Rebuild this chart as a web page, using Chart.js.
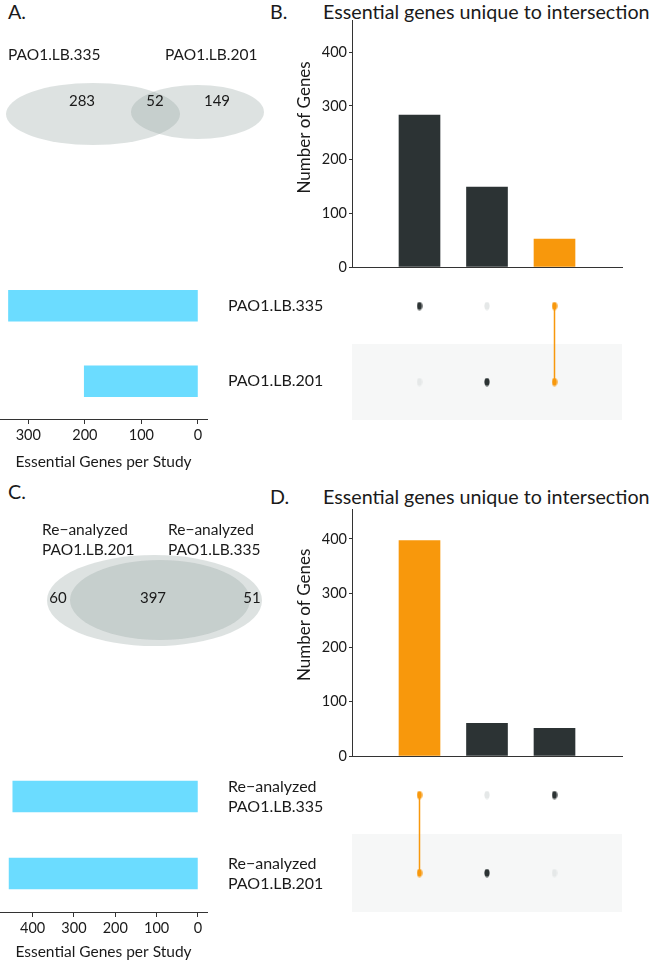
<!DOCTYPE html>
<html>
<head>
<meta charset="utf-8">
<script src="https://cdn.jsdelivr.net/npm/chart.js@4.4.0/dist/chart.umd.min.js"></script>
<style>
  body { margin: 0; background: #fff; }
  #page { position: relative; width: 652px; height: 963px; overflow: hidden; font-family: Lato, sans-serif; color: #1a1a1a; }
  #page canvas { position: absolute; }
  .lbl { position: absolute; white-space: nowrap; font-size: 19.7px; line-height: 22px; }
</style>
</head>
<body>
<div id="page">
  <div class="lbl" style="left:8px;top:1px">A.</div>
  <div class="lbl" style="left:270px;top:1px">B.</div>
  <div class="lbl" style="left:323px;top:1px">Essential genes unique to intersection</div>
  <div class="lbl" style="left:8px;top:481px">C.</div>
  <div class="lbl" style="left:270px;top:486px">D.</div>
  <div class="lbl" style="left:323px;top:486px">Essential genes unique to intersection</div>

  <canvas id="vennA" width="275" height="120" style="left:0;top:40px"></canvas>
  <canvas id="barB" width="372" height="285" style="left:280px;top:0"></canvas>
  <canvas id="matB" width="372" height="170" style="left:280px;top:260px"></canvas>
  <canvas id="setsA" width="340" height="220" style="left:0;top:260px"></canvas>

  <canvas id="vennC" width="275" height="140" style="left:0;top:520px"></canvas>
  <canvas id="barD" width="372" height="280" style="left:280px;top:490px"></canvas>
  <canvas id="matD" width="372" height="175" style="left:280px;top:748px"></canvas>
  <canvas id="setsC" width="340" height="213" style="left:0;top:750px"></canvas>
</div>
<script>
// ---- data (top half: original studies) ----
const setNamesA = ['PAO1.LB.335', 'PAO1.LB.201'];
const setSizesA = [335, 201];
const vennCountsA = [283, 52, 149];          // only 335, both, only 201
const upsetCountsB = [283, 149, 52];
const upsetMembersB = [[1, 0], [0, 1], [1, 1]]; // per column: [row1, row2]

// ---- data (bottom half: re-analyzed) ----
const vennLabelsC = [['Re\u2212analyzed', 'PAO1.LB.201'], ['Re\u2212analyzed', 'PAO1.LB.335']];
const setNamesC = [['Re\u2212analyzed', 'PAO1.LB.335'], ['Re\u2212analyzed', 'PAO1.LB.201']];
const setSizesC = [448, 457];
const vennCountsC = [60, 397, 51];
const upsetCountsD = [397, 60, 51];
const upsetMembersD = [[1, 1], [0, 1], [1, 0]];

// ---- tick labels ----
const countTicks = [0, 100, 200, 300, 400];
const setTicksA = [0, 100, 200, 300];
const setTicksC = [0, 100, 200, 300, 400];

const DARK = '#2c3334';
const ORANGE = '#f8980c';
const BLUE = '#6bdcff';
const LIGHT = '#e5e8e8';
const AXIS = '#333';

Chart.defaults.font.family = 'Lato, sans-serif';
Chart.defaults.color = '#1a1a1a';
Chart.defaults.animation = false;

function makeDot(color) {
  const c = document.createElement('canvas');
  c.width = 6; c.height = 9;
  const g = c.getContext('2d');
  g.fillStyle = color;
  g.beginPath();
  g.ellipse(3, 4.5, 2.6, 4, 0, 0, Math.PI * 2);
  g.fill();
  return c;
}
const dots = { dark: makeDot(DARK), light: makeDot(LIGHT), hi: makeDot(ORANGE) };

// venn: ellipses and numbers placed in the chart's own x/y units
const vennPlugin = {
  id: 'venn',
  afterDraw(chart, args, opts) {
    const { ctx, scales: { x, y } } = chart;
    ctx.save();
    opts.shapes.forEach(s => {
      const cx = x.getPixelForValue(s.cx), cy = y.getPixelForValue(s.cy);
      const rx = Math.abs(x.getPixelForValue(s.cx + s.rx) - cx);
      const ry = Math.abs(y.getPixelForValue(s.cy + s.ry) - cy);
      ctx.fillStyle = 'rgba(150,166,162,0.32)';
      ctx.beginPath();
      ctx.ellipse(cx, cy, rx, ry, 0, 0, Math.PI * 2);
      ctx.fill();
    });
    ctx.fillStyle = '#1a1a1a';
    ctx.textAlign = 'center';
    ctx.textBaseline = 'middle';
    ctx.font = '15px Lato, sans-serif';
    opts.counts.forEach((v, i) => {
      const p = opts.countPos[i];
      ctx.fillText(String(v), x.getPixelForValue(p[0]), y.getPixelForValue(p[1]));
    });
    ctx.textAlign = 'left';
    ctx.font = '15.5px Lato, sans-serif';
    opts.labels.forEach((lab, i) => {
      const p = opts.labelPos[i];
      const lines = Array.isArray(lab) ? lab : [lab];
      lines.forEach((t, k) => ctx.fillText(t, x.getPixelForValue(p[0]), y.getPixelForValue(p[1]) + k * 20));
    });
    ctx.restore();
  }
};

function vennChart(id, w, h, vopts) {
  return new Chart(document.getElementById(id), {
    type: 'scatter',
    data: { datasets: [] },
    options: {
      responsive: false,
      layout: { padding: 0 },
      plugins: { legend: { display: false }, tooltip: { enabled: false }, venn: vopts },
      scales: {
        x: { type: 'linear', display: false, min: 0, max: w },
        y: { type: 'linear', display: false, min: 0, max: h, reverse: true }
      }
    },
    plugins: [vennPlugin]
  });
}

vennChart('vennA', 275, 120, {
  shapes: [{ cx: 93, cy: 74, rx: 87, ry: 31 }, { cx: 197.5, cy: 72, rx: 66.5, ry: 27 }],
  counts: vennCountsA,
  countPos: [[82, 61], [155, 61], [217, 61]],
  labels: setNamesA,
  labelPos: [[8, 15], [165, 15]]
});

vennChart('vennC', 275, 140, {
  shapes: [{ cx: 154.5, cy: 80.5, rx: 107.5, ry: 45.5 }, { cx: 160, cy: 80, rx: 90, ry: 40 }],
  counts: vennCountsC,
  countPos: [[58, 78], [153, 78], [252, 78]],
  labels: vennLabelsC,
  labelPos: [[42, 10], [168, 10]]
});

function intersectionColors(members) {
  return members.map(col => col.every(m => m) ? ORANGE : DARK);
}

// y axis title, centred on a value of the count axis like the original
const yTitlePlugin = {
  id: 'yTitle',
  afterDraw(chart, args, opts) {
    const { ctx, scales: { y } } = chart;
    ctx.save();
    ctx.translate(y.left + opts.offset, y.getPixelForValue(opts.at));
    ctx.rotate(-Math.PI / 2);
    ctx.font = '17px Lato, sans-serif';
    ctx.fillStyle = '#1a1a1a';
    ctx.textAlign = 'center';
    ctx.textBaseline = 'middle';
    ctx.fillText(opts.text, 0, 0);
    ctx.restore();
  }
};

function countChart(id, counts, members, yMax, pad) {
  return new Chart(document.getElementById(id), {
    type: 'bar',
    data: {
      datasets: [{
        data: counts.map((v, i) => ({ x: i + 1, y: v })),
        backgroundColor: intersectionColors(members),
        barThickness: 41
      }]
    },
    options: {
      responsive: false,
      layout: { padding: pad },
      plugins: {
        legend: { display: false }, tooltip: { enabled: false },
        yTitle: { text: 'Number of Genes', at: 260, offset: 25 }
      },
      scales: {
        x: {
          type: 'linear', min: 0, max: counts.length + 1, offset: false,
          ticks: { display: false },
          grid: { display: false },
          border: { display: true, color: AXIS, width: 1 },
          afterFit: s => { s.height = 0; }
        },
        y: {
          min: 0, max: yMax,
          afterBuildTicks: s => { s.ticks = countTicks.map(v => ({ value: v })); },
          ticks: { font: { size: 14.5 }, padding: 2, color: '#1a1a1a' },
          grid: { drawOnChartArea: false, tickLength: 3, color: AXIS },
          border: { display: true, color: AXIS, width: 1 },
          afterFit: s => { s.width = 72; s.paddingTop = 0; s.paddingBottom = 0; }
        }
      }
    },
    plugins: [yTitlePlugin]
  });
}

countChart('barB', upsetCountsB, upsetMembersB, 460, { left: 0, right: 30, top: 20, bottom: 18 });
countChart('barD', upsetCountsD, upsetMembersD, 455, { left: 0, right: 30, top: 19, bottom: 14 });

const bandPlugin = {
  id: 'band',
  beforeDatasetsDraw(chart) {
    const { ctx, chartArea: a, scales: { y } } = chart;
    const n = chart.options.plugins.band.rows;
    ctx.save();
    ctx.fillStyle = '#f6f7f7';
    for (let r = 1; r < n; r += 2) {
      const t = y.getPixelForValue(r - 0.5), b = y.getPixelForValue(r + 0.5);
      ctx.fillRect(a.left, t, a.right - a.left, b - t);
    }
    ctx.restore();
  }
};

function matrixChart(id, members, pad) {
  const dark = [], light = [], hi = [];
  members.forEach((col, c) => {
    const full = col.every(m => m);
    col.forEach((m, r) => {
      const p = { x: c + 1, y: r };
      if (!m) light.push(p); else if (full) hi.push(p); else dark.push(p);
    });
  });
  return new Chart(document.getElementById(id), {
    type: 'scatter',
    data: {
      datasets: [
        { data: light, pointStyle: dots.light, pointRadius: 4 },
        { data: dark, pointStyle: dots.dark, pointRadius: 4 },
        { data: hi, pointStyle: dots.hi, pointRadius: 4, showLine: true, borderColor: ORANGE, borderWidth: 1.5 }
      ]
    },
    options: {
      responsive: false,
      layout: { padding: pad },
      plugins: { legend: { display: false }, tooltip: { enabled: false }, band: { rows: members[0].length } },
      scales: {
        x: { type: 'linear', display: false, min: 0, max: members.length + 1 },
        y: { type: 'linear', display: false, min: -0.5, max: members[0].length - 0.5, reverse: true }
      }
    },
    plugins: [bandPlugin]
  });
}

matrixChart('matB', upsetMembersB, { left: 72, right: 30, top: 8, bottom: 10 });
matrixChart('matD', upsetMembersD, { left: 72, right: 30, top: 8, bottom: 11 });

function setSizeChart(id, names, sizes, ticks, xMin, xMax, axisH, titlePad) {
  return new Chart(document.getElementById(id), {
    type: 'bar',
    data: {
      labels: names,
      datasets: [{ data: sizes, backgroundColor: BLUE, barThickness: 31 }]
    },
    options: {
      indexAxis: 'y',
      responsive: false,
      layout: { padding: { left: 0, right: 0, top: 8, bottom: 0 } },
      plugins: { legend: { display: false }, tooltip: { enabled: false } },
      scales: {
        x: {
          type: 'linear', min: xMin, max: xMax, reverse: true,
          afterBuildTicks: s => { s.ticks = ticks.map(v => ({ value: v })); },
          ticks: { font: { size: 14.5 }, padding: 3, color: '#1a1a1a', maxRotation: 0 },
          grid: { drawOnChartArea: false, tickLength: 5, color: AXIS },
          border: { display: true, color: AXIS, width: 1 },
          title: { display: true, text: 'Essential Genes per Study', font: { size: 15.5 }, padding: { top: 0, bottom: titlePad } },
          afterFit: s => { s.height = axisH; s.paddingLeft = 0; s.paddingRight = 0; }
        },
        y: {
          position: 'right',
          grid: { display: false, drawTicks: false },
          border: { display: false },
          ticks: { font: { size: 16, lineHeight: 1.25 }, padding: 21, color: '#1a1a1a' },
          afterFit: s => { s.width = 133; s.paddingTop = 0; s.paddingBottom = 0; }
        }
      }
    }
  });
}

setSizeChart('setsA', setNamesA, setSizesA, setTicksA, -16, 350, 61, 8.6);
setSizeChart('setsC', setNamesC, setSizesC, setTicksC, -22, 479, 51, 1.6);
</script>
</body>
</html>
